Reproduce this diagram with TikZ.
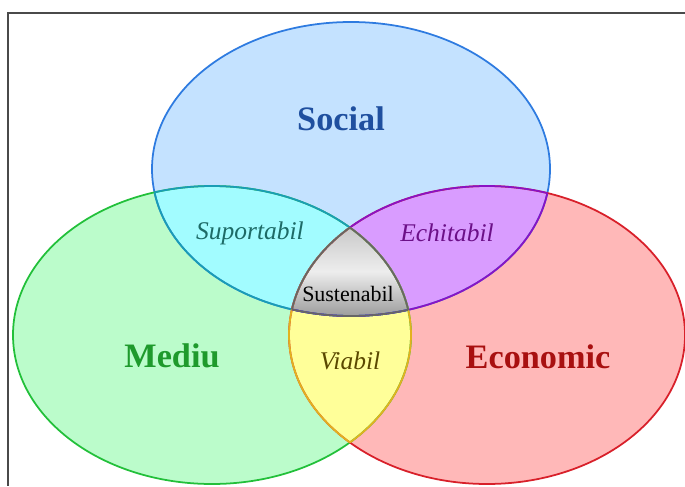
\documentclass[tikz,border=0pt]{standalone}
\usepackage{fontspec}
\setmainfont{Liberation Serif}
\usetikzlibrary{positioning}

\definecolor{socialfill}{HTML}{C4E2FF}
\definecolor{socialline}{HTML}{2E7BE0}
\definecolor{socialtext}{HTML}{1F4F9F}
\definecolor{mediufill}{HTML}{BBFCCB}
\definecolor{mediuline}{HTML}{22C03A}
\definecolor{mediutext}{HTML}{1E9A2C}
\definecolor{economicfill}{HTML}{FFB8B8}
\definecolor{economicline}{HTML}{D8202A}
\definecolor{economictext}{HTML}{A81010}
\definecolor{suportfill}{HTML}{A2FCFF}
\definecolor{suportline}{HTML}{1A9DB5}
\definecolor{suporttext}{HTML}{1D6A66}
\definecolor{echitfill}{HTML}{D99CFF}
\definecolor{echitline}{HTML}{8A12C4}
\definecolor{echittext}{HTML}{6C1088}
\definecolor{viabilfill}{HTML}{FFFF99}
\definecolor{viabilline}{HTML}{E2B21E}
\definecolor{viabiltext}{HTML}{5A4800}
\definecolor{frameline}{HTML}{4A4A4A}

\def\social{(351,169) ellipse [x radius=199, y radius=147]}
\def\mediu{(212,335) ellipse [x radius=199, y radius=149]}
\def\economic{(487,335) ellipse [x radius=198, y radius=149]}

\begin{document}
\begin{tikzpicture}[x=0.02cm,y=-0.02cm,
    setlabel/.style={font=\bfseries\fontsize{19.5}{19.5}\selectfont},
    pairlabel/.style={font=\itshape\fontsize{14.5}{14.5}\selectfont},
    edge/.style={line width=1pt}]
    \useasboundingbox (0,0) rectangle (685,486);

    % Frame
    \draw [line width=1pt, frameline] (685,13) -- (8,13) -- (8,486);

    % Sets
    \fill [socialfill] \social;
    \fill [mediufill] \mediu;
    \fill [economicfill] \economic;

    % Pairwise overlaps
    \begin{scope}
        \clip \social;
        \fill [suportfill] \mediu;
        \fill [echitfill] \economic;
    \end{scope}
    \begin{scope}
        \clip \mediu;
        \fill [viabilfill] \economic;
    \end{scope}

    % Centre
    \begin{scope}
        \clip \social;
        \clip \mediu;
        \clip \economic;
        \shade [top color=black!22, bottom color=black!40, middle color=black!7] (280,225) rectangle (420,318);
    \end{scope}

    % Outlines
    \draw [edge, socialline] \social;
    \draw [edge, mediuline] \mediu;
    \draw [edge, economicline] \economic;

    \begin{scope}
        \clip \social;
        \draw [edge, suportline] \mediu;
        \draw [edge, echitline] \economic;
    \end{scope}
    \begin{scope}
        \clip \mediu;
        \draw [edge, suportline] \social;
        \draw [edge, viabilline] \economic;
    \end{scope}
    \begin{scope}
        \clip \economic;
        \draw [edge, echitline] \social;
        \draw [edge, viabilline] \mediu;
    \end{scope}
    \begin{scope}
        \clip \social;
        \clip \mediu;
        \draw [edge, black!60] \economic;
    \end{scope}
    \begin{scope}
        \clip \social;
        \clip \economic;
        \draw [edge, black!60] \mediu;
    \end{scope}
    \begin{scope}
        \clip \mediu;
        \clip \economic;
        \draw [edge, black!60] \social;
    \end{scope}

    % Labels
    \node [setlabel, text=socialtext] (social) at (341,119) {Social};
    \node [setlabel, text=mediutext] (mediu) at (172,356) {Mediu};
    \node [setlabel, text=economictext] (economic) at (538,357) {Economic};
    \node [pairlabel, text=suporttext] (suportabil) at (250,233) {Suportabil};
    \node [pairlabel, text=echittext] (echitabil) at (447,233) {Echitabil};
    \node [pairlabel, text=viabiltext] (viabil) at (350,361) {Viabil};
    \node [font=\fontsize{12.5}{12.5}\selectfont] (sustenabil) at (348,294) {Sustenabil};
\end{tikzpicture}
\end{document}
